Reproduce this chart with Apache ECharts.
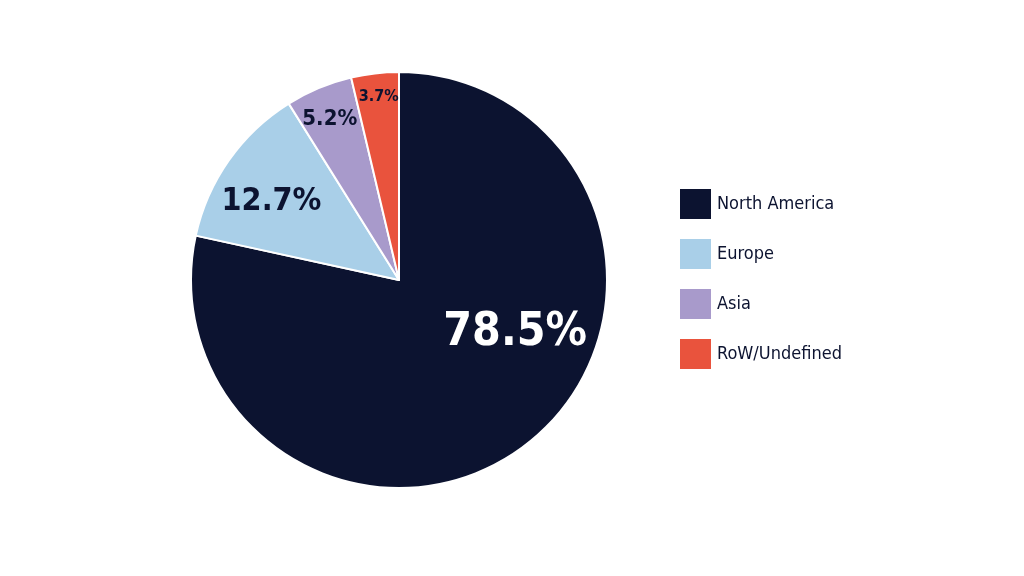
<!DOCTYPE html>
<html><head><meta charset="utf-8">
<script src="https://cdn.jsdelivr.net/npm/echarts@6/dist/echarts.min.js"></script>
<style>html,body{margin:0;background:#fff}#c{width:1024px;height:576px}</style>
</head><body><div id="c"></div>
<script>
const categories = ["North America", "Europe", "Asia", "RoW/Undefined"];
const values = [78.5, 12.7, 5.2, 3.7];
const colors = ["#0c1330", "#a9cfe8", "#a89acb", "#e9533d"];
const labelSizes = [46, 32, 22, 16];
const labelColors = ["#ffffff", "#0c1330", "#0c1330", "#0c1330"];
const labelOffsets = [[49, -30], [-40, -17], [-28, -62], [-8, -77]];
const font = "'DejaVu Sans Condensed', 'Liberation Sans Narrow', sans-serif";
const chart = echarts.init(document.getElementById('c'));
chart.setOption({
  animation: false,
  legend: {
    orient: 'vertical', left: 673, top: 182, itemWidth: 33, itemHeight: 32, itemGap: 16,
    icon: 'rect', data: categories,
    textStyle: { fontSize: 18, color: '#0c1330', fontFamily: font, padding: [0, 0, 0, 0] }
  },
  series: [{
    type: 'pie', center: [399, 280], radius: 208, startAngle: 90, clockwise: true,
    avoidLabelOverlap: false,
    itemStyle: { borderColor: '#fff', borderWidth: 2 },
    label: { show: true, position: 'inside', fontFamily: font, fontWeight: 'bold' },
    labelLayout: { hideOverlap: false },
    labelLine: { show: false },
    data: categories.map((n, i) => ({
      name: n, value: values[i], itemStyle: { color: colors[i] },
      label: { formatter: values[i].toFixed(1) + '%', fontSize: labelSizes[i], color: labelColors[i], offset: labelOffsets[i] }
    }))
  }]
});
</script></body></html>
